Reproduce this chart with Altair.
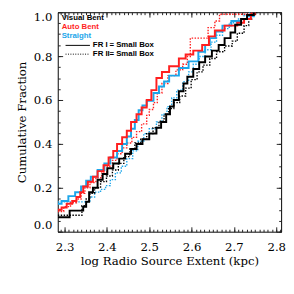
import altair as alt
import pandas as pd

# ---- tick values ----
x_major = [2.3, 2.4, 2.5, 2.6, 2.7, 2.8]
x_minor = [round(2.29 + 0.01 * i, 2) for i in range(53)]
y_major = [0.0, 0.2, 0.4, 0.6, 0.8, 1.0]
y_minor = [round(0.05 * i, 2) for i in range(21)]

# ---- legend texts ----
class_names = ["Visual Bent", "Auto Bent", "Straight"]
style_names = ["FR I", "FR II"]
style_suffix = "= Small Box"

# ---- cumulative curves (log extent, fraction) ----
vb1_x = [2.284, 2.312, 2.344, 2.351, 2.358, 2.367, 2.378, 2.390, 2.401, 2.415, 2.429, 2.443, 2.457, 2.470, 2.484,
         2.500, 2.517, 2.528, 2.540, 2.549, 2.558, 2.570, 2.581, 2.590, 2.604, 2.618, 2.632, 2.648, 2.664, 2.678,
         2.692, 2.703, 2.717, 2.731, 2.747]
vb1_y = [0.066, 0.096, 0.114, 0.136, 0.180, 0.200, 0.237, 0.263, 0.289, 0.311, 0.333, 0.355, 0.377, 0.400, 0.421,
         0.447, 0.474, 0.500, 0.535, 0.570, 0.600, 0.640, 0.675, 0.706, 0.741, 0.772, 0.798, 0.825, 0.851, 0.882,
         0.908, 0.943, 0.969, 0.987, 1.000]

ab1_x = [2.284, 2.293, 2.305, 2.318, 2.328, 2.337, 2.344, 2.355, 2.367, 2.378, 2.392, 2.404, 2.415, 2.424, 2.436,
         2.447, 2.457, 2.470, 2.482, 2.494, 2.505, 2.517, 2.530, 2.547, 2.570, 2.586, 2.604, 2.625, 2.641, 2.655,
         2.678, 2.708, 2.724, 2.740, 2.749]
ab1_y = [0.100, 0.110, 0.127, 0.140, 0.158, 0.180, 0.206, 0.228, 0.250, 0.276, 0.303, 0.338, 0.368, 0.400, 0.430,
         0.460, 0.500, 0.535, 0.566, 0.600, 0.645, 0.700, 0.728, 0.754, 0.789, 0.807, 0.825, 0.851, 0.890, 0.917,
         0.939, 0.952, 0.969, 0.991, 1.000]

st1_x = [2.284, 2.293, 2.309, 2.325, 2.339, 2.351, 2.362, 2.378, 2.394, 2.408, 2.424, 2.436, 2.447, 2.457, 2.466,
         2.475, 2.484, 2.494, 2.510, 2.523, 2.535, 2.547, 2.570, 2.593, 2.616, 2.632, 2.643, 2.657, 2.673, 2.694,
         2.717, 2.731, 2.747]
st1_y = [0.127, 0.140, 0.162, 0.180, 0.206, 0.232, 0.250, 0.281, 0.311, 0.338, 0.368, 0.400, 0.434, 0.469, 0.509,
         0.553, 0.575, 0.596, 0.632, 0.662, 0.684, 0.711, 0.746, 0.776, 0.820, 0.851, 0.882, 0.912, 0.939, 0.960,
         0.969, 0.982, 1.000]

vb2_x = [2.284, 2.332, 2.341, 2.351, 2.360, 2.371, 2.385, 2.399, 2.413, 2.427, 2.440, 2.454, 2.466, 2.480, 2.494,
         2.509, 2.523, 2.535, 2.546, 2.558, 2.572, 2.586, 2.599, 2.613, 2.627, 2.643, 2.659, 2.678, 2.696, 2.708,
         2.724, 2.735, 2.742, 2.754]
vb2_y = [0.075, 0.075, 0.118, 0.149, 0.175, 0.200, 0.228, 0.254, 0.281, 0.311, 0.342, 0.377, 0.404, 0.421, 0.447,
         0.474, 0.504, 0.535, 0.561, 0.588, 0.618, 0.654, 0.693, 0.728, 0.759, 0.789, 0.820, 0.846, 0.868, 0.904,
         0.939, 0.969, 0.991, 1.000]

ab2_x = [2.284, 2.298, 2.314, 2.328, 2.339, 2.348, 2.360, 2.374, 2.388, 2.401, 2.413, 2.424, 2.436, 2.447, 2.459,
         2.470, 2.482, 2.494, 2.500, 2.510, 2.519, 2.530, 2.544, 2.563, 2.579, 2.590, 2.597, 2.634, 2.639, 2.655,
         2.666, 2.735, 2.742]
ab2_y = [0.092, 0.114, 0.132, 0.149, 0.175, 0.200, 0.224, 0.246, 0.272, 0.298, 0.325, 0.355, 0.382, 0.404, 0.430,
         0.456, 0.491, 0.530, 0.557, 0.588, 0.632, 0.675, 0.711, 0.737, 0.763, 0.798, 0.882, 0.882, 0.930, 0.960,
         0.991, 0.991, 1.000]

st2_x = [2.284, 2.340, 2.360, 2.371, 2.385, 2.397, 2.408, 2.420, 2.434, 2.447, 2.461, 2.473, 2.487, 2.500, 2.517,
         2.530, 2.542, 2.553, 2.565, 2.579, 2.593, 2.604, 2.618, 2.632, 2.646, 2.659, 2.673, 2.689, 2.708, 2.724,
         2.737]
st2_y = [0.136, 0.136, 0.158, 0.180, 0.193, 0.210, 0.237, 0.268, 0.298, 0.333, 0.368, 0.412, 0.447, 0.469, 0.500,
         0.535, 0.570, 0.610, 0.645, 0.684, 0.728, 0.763, 0.798, 0.829, 0.864, 0.895, 0.925, 0.952, 0.969, 0.987,
         1.000]

BLACK = "#000000"
RED = "#ff1f1f"
BLUE = "#1ca6ea"
FONT = "DejaVu Serif"
LFONT = "Liberation Sans"

xscale = alt.Scale(domain=[2.2839, 2.8115], nice=False, zero=False)
yscale = alt.Scale(domain=[0.0, 1.0], nice=False, zero=False)

common = dict(domain=False, grid=False, tickColor="#222222", tickWidth=1)

ax_b_major = alt.Axis(orient="bottom", values=x_major, offset=-5, tickSize=5, format=".1f",
                      labelFont=FONT, labelFontSize=12, labelColor="black", labelPadding=10,
                      title="log Radio Source Extent (kpc)", titleFont=FONT, titleFontSize=12,
                      titleFontWeight="normal", titleColor="black", titlePadding=4, **common)
ax_b_minor = alt.Axis(orient="bottom", values=x_minor, offset=-2.5, tickSize=2.5, labels=False, title=None, **common)
ax_t_major = alt.Axis(orient="top", values=x_major, offset=-5, tickSize=5, labels=False, title=None, **common)
ax_t_minor = alt.Axis(orient="top", values=x_minor, offset=-2.5, tickSize=2.5, labels=False, title=None, **common)

ay_l_major = alt.Axis(orient="left", values=y_major, offset=-5, tickSize=5, format=".1f", labelFlush=True,
                      labelFont=FONT, labelFontSize=12, labelColor="black", labelPadding=6,
                      title="Cumulative Fraction", titleFont=FONT, titleFontSize=12,
                      titleFontWeight="normal", titleColor="black", titlePadding=5, **common)
ay_l_minor = alt.Axis(orient="left", values=y_minor, offset=-2.5, tickSize=2.5, labels=False, title=None, **common)
ay_r_major = alt.Axis(orient="right", values=y_major, offset=-5, tickSize=5, labels=False, title=None, **common)
ay_r_minor = alt.Axis(orient="right", values=y_minor, offset=-2.5, tickSize=2.5, labels=False, title=None, **common)


def curve(xs, ys, color, width, dotted, xaxis=None, yaxis=None):
    df = pd.DataFrame({"x": xs, "y": ys})
    kw = dict(interpolate="step-after", color=color, strokeWidth=width, clip=True)
    if dotted:
        kw["strokeDash"] = [1.5, 1.5]
    return alt.Chart(df).mark_line(**kw).encode(
        x=alt.X("x:Q", scale=xscale, axis=xaxis),
        y=alt.Y("y:Q", scale=yscale, axis=yaxis),
        order=alt.Order("x:Q"),
    )


def label(text, x, y, color):
    return alt.Chart(pd.DataFrame({"t": [text]})).mark_text(
        align="left", baseline="middle", font=LFONT, fontSize=8, fontWeight="bold", color=color
    ).encode(x=alt.value(x), y=alt.value(y), text="t:N")


def sample(y, dotted):
    kw = dict(color="black", strokeWidth=1)
    if dotted:
        kw["strokeDash"] = [1, 1.5]
    return alt.Chart(pd.DataFrame({"t": [0]})).mark_rule(**kw).encode(
        x=alt.value(8), x2=alt.value(33), y=alt.value(y))


layers = [
    curve(st2_x, st2_y, BLUE, 1.4, True, ax_b_major, ay_l_major),
    curve(vb2_x, vb2_y, BLACK, 1.4, True, ax_b_minor, ay_l_minor),
    curve(ab2_x, ab2_y, RED, 1.4, True, ax_t_major, ay_r_major),
    curve(st1_x, st1_y, BLUE, 2, False, ax_t_minor, ay_r_minor),
    curve(ab1_x, ab1_y, RED, 2, False),
    curve(vb1_x, vb1_y, BLACK, 2, False),
    label(class_names[0], 4, 6, BLACK),
    label(class_names[1], 4, 15, RED),
    label(class_names[2], 4, 24, BLUE),
    sample(34, False),
    sample(43, True),
    label(style_names[0], 36, 34, BLACK),
    label(style_names[1], 36, 43, BLACK),
    label(style_suffix, 53, 34, BLACK),
    label(style_suffix, 53, 43, BLACK),
]

chart = alt.layer(*layers).resolve_axis(x="independent", y="independent").properties(
    width=229, height=225,
    padding={"left": 51, "top": 1, "right": 5, "bottom": 38},
    autosize=alt.AutoSizeParams(type="none"),
    background="white",
).configure_view(stroke="black", strokeWidth=1)

chart.save("out.html", embed_options={"renderer": "svg", "actions": False})
